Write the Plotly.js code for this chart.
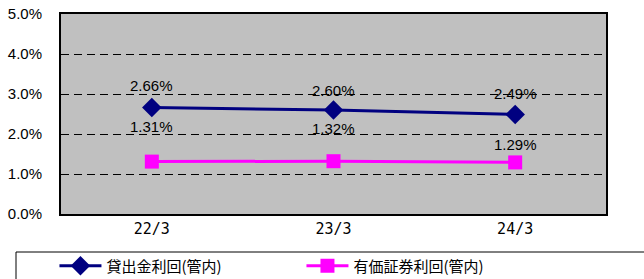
<!DOCTYPE html>
<html><head><meta charset="utf-8">
<script src="https://cdn.plot.ly/plotly-3.0.1.min.js"></script>
<style>body{margin:0;background:#fff}#c{width:644px;height:279px}</style>
</head><body><div id="c"></div>
<script>
const categories = ["22/3", "23/3", "24/3"];
const loanYield = [2.66, 2.60, 2.49];
const securitiesYield = [1.31, 1.32, 1.29];
const seriesNames = ["貸出金利回(管内)", "有価証券利回(管内)"];
const yTickVals = [0, 1, 2, 3, 4, 5];
const yTickText = ["0.0%", "1.0%", "2.0%", "3.0%", "4.0%", "5.0%"];

// label pixel offsets (style only)
const loanShift = [22, 20, 21];
const secShift = [35, 33, 18];

const traces = [
  {x: categories, y: loanYield, name: seriesNames[0], type: "scatter", mode: "lines+markers",
   line: {color: "#000080", width: 3}, marker: {symbol: "diamond", size: 15, color: "#000080"}},
  {x: categories, y: securitiesYield, name: seriesNames[1], type: "scatter", mode: "lines+markers",
   line: {color: "#FF00FF", width: 3}, marker: {symbol: "square", size: 14, color: "#FF00FF"}}
];

const annotations = [];
const labelFont = {family: "Liberation Sans, Arial, sans-serif", size: 15, color: "#000"};
categories.forEach((c, i) => {
  annotations.push({x: c, y: loanYield[i], text: loanYield[i].toFixed(2) + "%", showarrow: false,
    yshift: loanShift[i], font: labelFont});
  annotations.push({x: c, y: securitiesYield[i], text: securitiesYield[i].toFixed(2) + "%", showarrow: false,
    yshift: secShift[i], font: labelFont});
});

const layout = {
  width: 644, height: 279,
  margin: {l: 61, r: 38, t: 14, b: 65, autoexpand: false},
  paper_bgcolor: "#fff", plot_bgcolor: "#C0C0C0",
  showlegend: true,
  legend: {orientation: "h", x: -0.012, xanchor: "left", y: -0.26, yanchor: "middle",
    entrywidth: 190, entrywidthmode: "pixels", itemwidth: 42, bgcolor: "rgba(0,0,0,0)", borderwidth: 0,
    font: {family: "Noto Sans CJK JP, sans-serif", size: 15, color: "#000"}},
  xaxis: {type: "category", range: [-0.5, 2.5], showgrid: false, zeroline: false, showline: true, linecolor: "#000", linewidth: 2,
    mirror: true, ticks: "", tickfont: {family: "DejaVu Sans Mono, monospace", size: 15, color: "#000"}},
  yaxis: {range: [0, 5], tickvals: yTickVals, ticktext: yTickText, showgrid: true, gridcolor: "#000",
    griddash: "8px,5px", gridwidth: 1, zeroline: false, showline: true, linecolor: "#000", linewidth: 2,
    mirror: true, ticks: "", ticklabelstandoff: 14,
    tickfont: {family: "Liberation Sans, Arial, sans-serif", size: 15, color: "#000"}},
  annotations: annotations,
  shapes: [{type: "rect", xref: "paper", yref: "paper", x0: -45/545, x1: 1.2, y0: -0.5, y1: -0.19,
    line: {color: "#000", width: 1}, fillcolor: "rgba(0,0,0,0)"}]
};
Plotly.newPlot("c", traces, layout, {displayModeBar: false});
</script></body></html>
